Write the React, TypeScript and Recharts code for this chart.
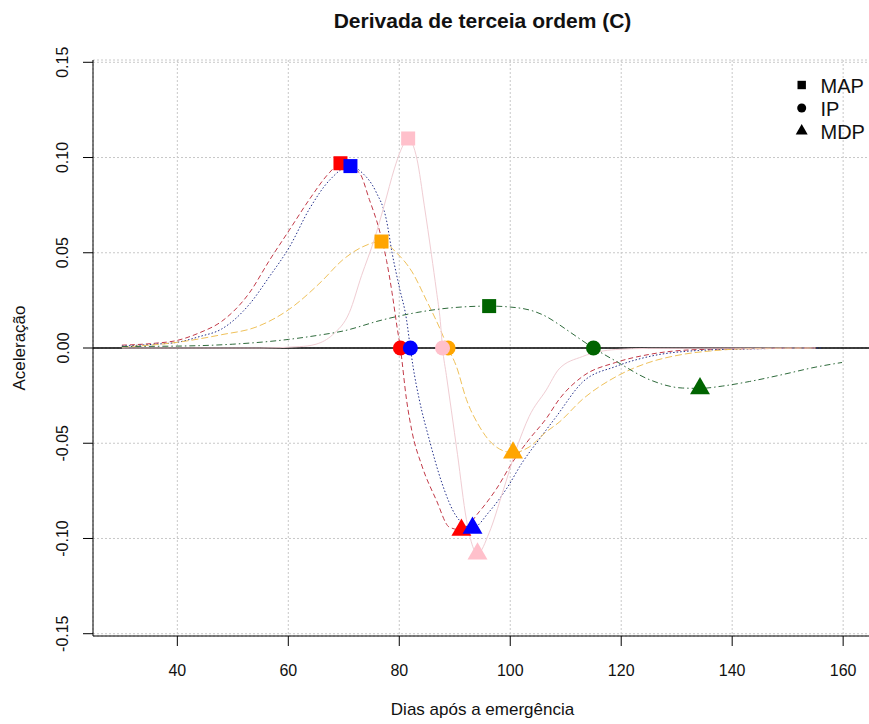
import { ComposedChart, Line, XAxis, YAxis, CartesianGrid, ReferenceLine } from 'recharts'

// dias após a emergência / aceleração
const RED_DAYS = [30, 36, 40, 44, 48, 53, 56.6, 60.2, 63.8, 67.4, 69.4, 72.8, 74.6, 76.4, 77.7, 78.7, 79.6, 80.2, 81.3, 82.3, 84.1, 86.7, 89, 91.2, 94.4, 97.5, 100.4, 103.4, 106.5, 108.8, 113, 119, 125, 134, 146, 155]
const RED_ACC = [0.0015, 0.0025, 0.004, 0.008, 0.014, 0.029, 0.046, 0.062, 0.078, 0.092, 0.097, 0.092, 0.078, 0.062, 0.046, 0.029, 0.011, 0, -0.027, -0.044, -0.062, -0.08, -0.094, -0.0955, -0.086, -0.074, -0.06, -0.048, -0.037, -0.027, -0.015, -0.0076, -0.0034, -0.0008, -0.0003, 0]

const BLUE_DAYS = [30, 36, 40, 44, 48, 53, 56.6, 60.2, 63.8, 67.4, 71.2, 73.3, 75.8, 77.7, 78.7, 80, 81.3, 82, 82.5, 83.6, 85.4, 87.7, 90.2, 93.2, 96.2, 99.3, 102.2, 105.2, 108.3, 113, 119, 125, 134, 146, 156]
const BLUE_ACC = [0.001, 0.002, 0.003, 0.006, 0.01, 0.023, 0.0375, 0.053, 0.073, 0.088, 0.0955, 0.092, 0.082, 0.067, 0.05, 0.032, 0.015, 0, -0.01, -0.027, -0.048, -0.071, -0.088, -0.0945, -0.086, -0.074, -0.06, -0.048, -0.036, -0.018, -0.0097, -0.0045, -0.0013, -0.0003, 0]

const PINK_DAYS = [30, 55, 62, 65, 68, 71, 73.2, 75.5, 77.3, 79.1, 80.3, 81.6, 83.2, 84.5, 85.8, 86.7, 87.4, 87.8, 88.5, 89.4, 90.5, 92.1, 94.1, 96.2, 98.6, 101.1, 103.4, 106.5, 108.8, 113, 119, 125, 155]
const PINK_ACC = [0, 0, 0.0007, 0.002, 0.007, 0.0186, 0.038, 0.057, 0.075, 0.094, 0.104, 0.11, 0.099, 0.075, 0.049, 0.03, 0.014, 0, -0.0145, -0.033, -0.056, -0.09, -0.108, -0.097, -0.076, -0.053, -0.036, -0.022, -0.011, -0.0045, -0.0008, -0.0002, 0]

const ORANGE_DAYS = [30, 40, 48, 54.2, 60, 66, 69.7, 73.3, 76.8, 79.5, 82.3, 84.9, 87.2, 88.8, 90.3, 92.1, 94.4, 97.5, 100.5, 103.4, 106.5, 108.8, 113, 119.1, 125, 131, 137.1, 143.1, 155]
const ORANGE_ACC = [0.0005, 0.003, 0.007, 0.011, 0.02, 0.035, 0.046, 0.053, 0.0559, 0.05, 0.04, 0.025, 0.011, 0, -0.0097, -0.027, -0.041, -0.052, -0.055, -0.052, -0.044, -0.039, -0.027, -0.015, -0.0076, -0.0034, -0.0013, -0.0003, 0]

const GREEN_DAYS = [30, 40, 50, 60, 65, 70, 76.9, 83.1, 89, 96.2, 101.6, 106.5, 108.8, 110.6, 115, 119.1, 125, 131, 134.2, 138.2, 143.1, 149, 155.1, 159.8]
const GREEN_ACC = [0.0008, 0.001, 0.002, 0.0045, 0.0065, 0.009, 0.0147, 0.0186, 0.021, 0.022, 0.021, 0.0165, 0.0123, 0.0087, 0, -0.007, -0.0165, -0.021, -0.0212, -0.02, -0.0176, -0.014, -0.01, -0.0076]

// MAP, IP, MDP points per curve
const MARK_KINDS = ['MAP', 'IP', 'MDP']
const RED_MARK_DAYS = [69.4, 80.2, 91.2]
const RED_MARK_ACC = [0.097, 0, -0.0955]
const BLUE_MARK_DAYS = [71.2, 82, 93.2]
const BLUE_MARK_ACC = [0.0955, 0, -0.0945]
const ORANGE_MARK_DAYS = [76.8, 88.8, 100.5]
const ORANGE_MARK_ACC = [0.0559, 0, -0.055]
const PINK_MARK_DAYS = [81.6, 87.8, 94.1]
const PINK_MARK_ACC = [0.11, 0, -0.108]
const GREEN_MARK_DAYS = [96.2, 115, 134.2]
const GREEN_MARK_ACC = [0.022, 0, -0.0212]

const X_TICKS = [40, 60, 80, 100, 120, 140, 160]
const Y_TICKS = [-0.15, -0.1, -0.05, 0, 0.05, 0.1, 0.15]

const FONT = '"Liberation Sans", Arial, Helvetica, sans-serif'

const zip = (xs: number[], ys: number[]) => xs.map((x, i) => ({ x, y: ys[i] }))
const marks = (xs: number[], ys: number[]) => xs.map((x, i) => ({ x, y: ys[i], kind: MARK_KINDS[i] }))

function Marker({ kind, cx, cy, color, scale = 1 }: { kind: string; cx: number; cy: number; color: string; scale?: number }) {
  if (kind === 'MAP') {
    const s = 14 * scale
    return <rect x={cx - s / 2} y={cy - s / 2} width={s} height={s} fill={color} />
  }
  if (kind === 'IP') return <circle cx={cx} cy={cy} r={7.5 * scale} fill={color} />
  const r = 11.5 * scale
  const hw = r * 0.866
  return <polygon points={`${cx},${cy - r} ${cx + hw},${cy + r / 2} ${cx - hw},${cy + r / 2}`} fill={color} />
}

const markerDot = (color: string) => (p: any) => (
  <g key={`m-${color}-${p.index}`}>
    <Marker kind={p.payload.kind} cx={p.cx} cy={p.cy} color={color} />
  </g>
)

function XTick({ x, payload }: any) {
  return (
    <text x={x} y={676} textAnchor="middle" fontSize={16} fontFamily={FONT} fill="#111">
      {payload.value}
    </text>
  )
}

function YTick({ y, payload }: any) {
  return (
    <text x={68.5} y={y} transform={`rotate(-90, 68.5, ${y})`} textAnchor="middle" fontSize={16} fontFamily={FONT} fill="#111">
      {Number(payload.value).toFixed(2)}
    </text>
  )
}

const SERIES = [
  { data: zip(RED_DAYS, RED_ACC), stroke: '#c23a48', dash: '5 3' },
  { data: zip(BLUE_DAYS, BLUE_ACC), stroke: '#23308c', dash: '1.5 2' },
  { data: zip(ORANGE_DAYS, ORANGE_ACC), stroke: '#efc15a', dash: '7 3' },
  { data: zip(PINK_DAYS, PINK_ACC), stroke: '#f0cdd3', dash: undefined },
  { data: zip(GREEN_DAYS, GREEN_ACC), stroke: '#2f6b3c', dash: '6 3 1.5 3' },
]

const MARKS = [
  { data: marks(RED_MARK_DAYS, RED_MARK_ACC), color: '#ff0000' },
  { data: marks(BLUE_MARK_DAYS, BLUE_MARK_ACC), color: '#0000ff' },
  { data: marks(ORANGE_MARK_DAYS, ORANGE_MARK_ACC), color: '#ffa500' },
  { data: marks(PINK_MARK_DAYS, PINK_MARK_ACC), color: '#ffc0cb' },
  { data: marks(GREEN_MARK_DAYS, GREEN_MARK_ACC), color: '#006400' },
]

export default function App() {
  return (
    <div style={{ position: 'fixed', left: 0, top: 0, width: 869, height: 724, overflow: 'hidden', background: '#fff' }}>
      <div style={{ position: 'relative', width: 880, height: 724 }}>
        <ComposedChart width={880} height={724} margin={{ top: 60, right: 8, bottom: 0, left: 0 }}>
          <CartesianGrid stroke="#c8c8c8" strokeDasharray="2 2" />
          <XAxis
            type="number"
            dataKey="x"
            domain={[24.8, 165.2]}
            ticks={X_TICKS}
            interval={0}
            allowDataOverflow
            height={88}
            tickSize={10}
            axisLine={{ stroke: '#000' }}
            tickLine={{ stroke: '#000' }}
            tick={XTick}
          />
          <XAxis
            xAxisId="top"
            orientation="top"
            type="number"
            domain={[24.8, 165.2]}
            height={0}
            tick={false}
            tickLine={false}
            axisLine={{ stroke: '#000' }}
          />
          <YAxis
            type="number"
            dataKey="y"
            domain={[-0.1512, 0.1512]}
            ticks={Y_TICKS}
            interval={0}
            allowDataOverflow
            width={93}
            tickSize={10}
            axisLine={{ stroke: '#000' }}
            tickLine={{ stroke: '#000' }}
            tick={YTick}
          />
          <ReferenceLine y={0} stroke="#000" strokeWidth={1.5} />
          {SERIES.map((s, i) => (
            <Line
              key={`line-${i}`}
              data={s.data}
              dataKey="y"
              type="monotone"
              stroke={s.stroke}
              strokeWidth={1}
              strokeDasharray={s.dash}
              dot={false}
              activeDot={false}
              isAnimationActive={false}
            />
          ))}
          {MARKS.map((m, i) => (
            <Line
              key={`marks-${i}`}
              data={m.data}
              dataKey="y"
              stroke="none"
              dot={markerDot(m.color)}
              activeDot={false}
              isAnimationActive={false}
            />
          ))}
        </ComposedChart>
        <svg width={880} height={724} style={{ position: 'absolute', left: 0, top: 0, pointerEvents: 'none' }}>
          <text x={482.5} y={28} textAnchor="middle" fontSize={21} fontWeight="bold" fontFamily={FONT} fill="#111">
            Derivada de terceia ordem (C)
          </text>
          <text x={482.5} y={715} textAnchor="middle" fontSize={17} fontFamily={FONT} fill="#111">
            Dias após a emergência
          </text>
          <text x={25} y={348} transform="rotate(-90, 25, 348)" textAnchor="middle" fontSize={17} fontFamily={FONT} fill="#111">
            Aceleração
          </text>
          {MARK_KINDS.map((k, i) => (
            <g key={k}>
              <Marker kind={k} cx={801.7} cy={85 + i * 23} color="#000" scale={0.6} />
              <text x={820.5} y={92.5 + i * 23.2} fontSize={20} fontFamily={FONT} fill="#111">
                {k}
              </text>
            </g>
          ))}
        </svg>
      </div>
    </div>
  )
}
